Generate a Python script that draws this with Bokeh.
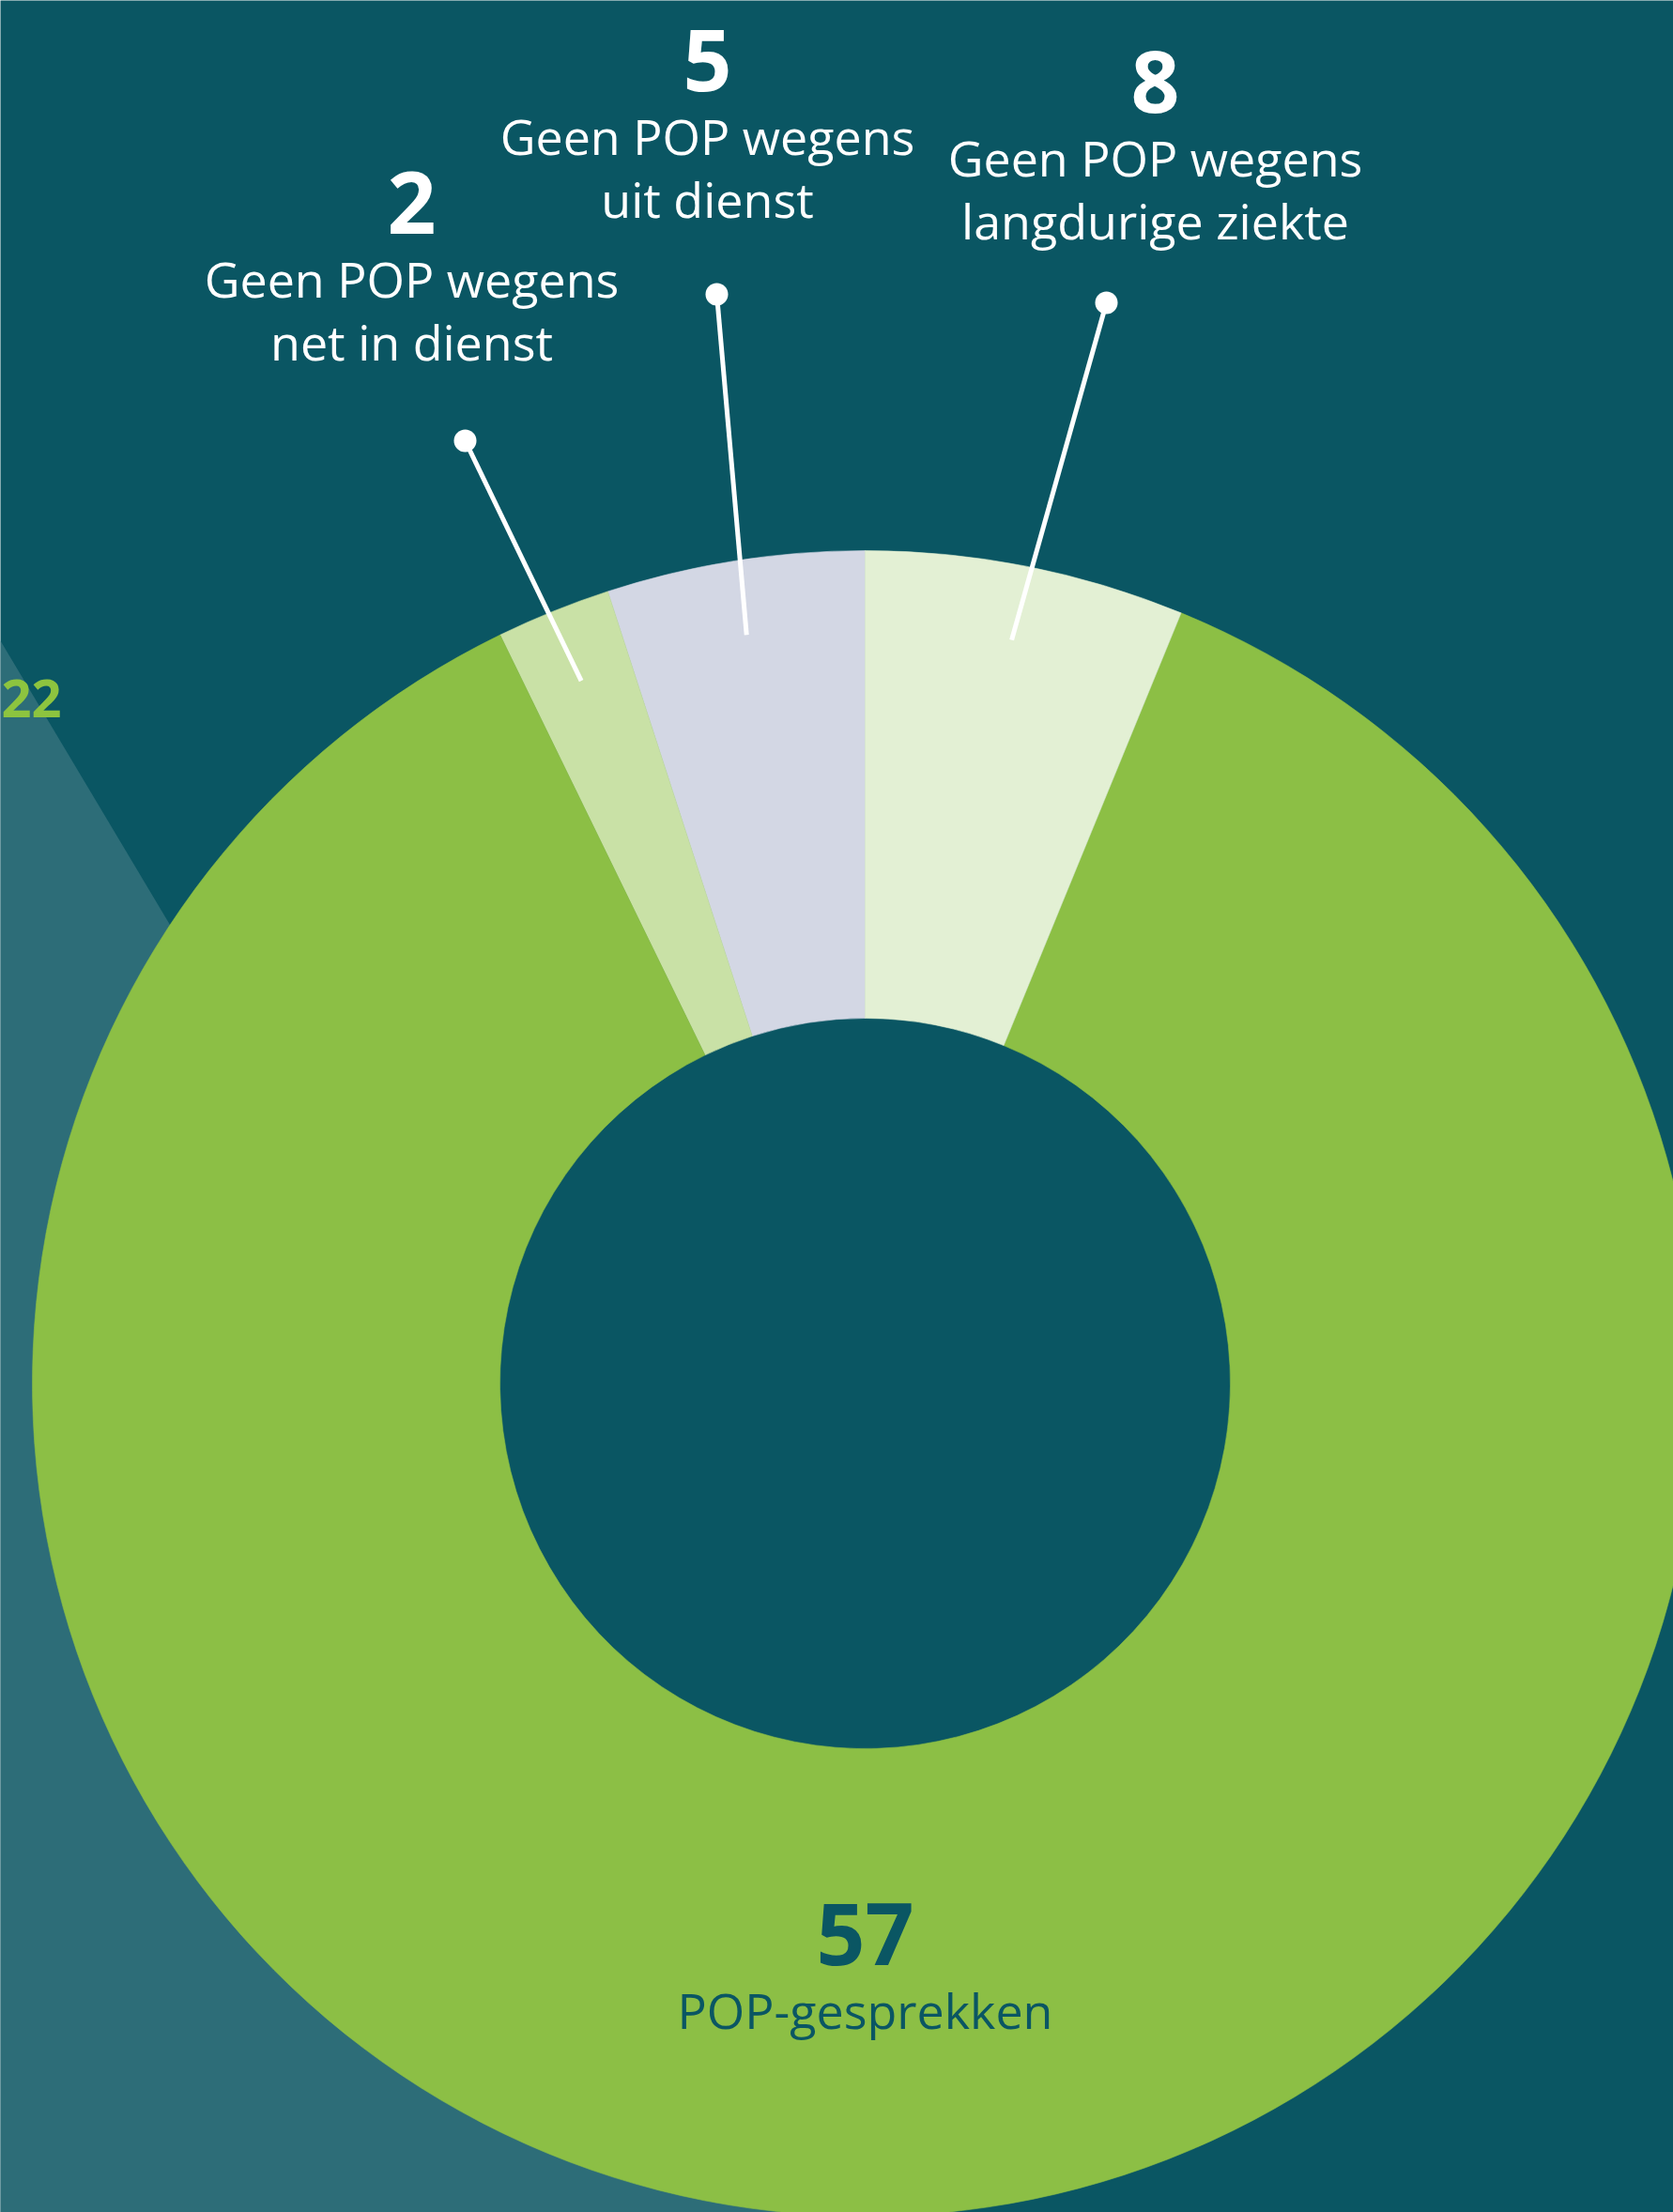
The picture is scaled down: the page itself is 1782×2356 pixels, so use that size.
import math
from bokeh.plotting import figure
from bokeh.models import Range1d, ColumnDataSource
from bokeh.core.properties import value
from bokeh.embed import file_html
from bokeh.resources import INLINE

# ---------------- data (slices listed anticlockwise, starting at 12 o'clock) ----------------
categories = ["uit dienst", "net in dienst", "POP-gesprekken", "langdurige ziekte"]
counts = [5, 2, 57, 8]
# size of each slice as drawn in the picture (degrees of the ring)
arc_deg = [18.0, 8.0, 311.7, 22.3]
label_line1 = ["Geen POP wegens", "Geen POP wegens", "POP-gesprekken", "Geen POP wegens"]
label_line2 = ["uit dienst", "net in dienst", "", "langdurige ziekte"]
side_value = "22"

# ---------------- styles / layout ----------------
W, H = 1782, 2356
BG = "#0a5663"
BG_LIGHT = "#2d6d78"
slice_colors = ["#d3d7e4", "#c9e1a6", "#8cbf45", "#e3f0d4"]
GREEN_TXT = "#8dc43f"
DARK_TXT = "#0a5663"
FONT = "Open Sans"

CX, CY_IMG = 921, 1473
R_OUT, R_IN = 887, 389

def fy(y_img):
    return H - y_img

CY = fy(CY_IMG)

# label anchors (image px): centre x, baseline of the number; leader dot position
label_anchor = [(753, 97), (438, 249), (921, 2093), (1230, 120)]
leader_dot = [(763, 313), (495, 469), None, (1178, 322)]
label_color = ["white", "white", DARK_TXT, "white"]
NUM_PX, LBL_PX = 91, 52
GAP1, GAP2 = 66, 67
BASE_FIX = 0.37  # empirical baseline correction (em)
LEADER_R = 0.91 * R_OUT

# background decoration: lighter teal wedge on the left
bg_shape_x = [0, 999, 0]
bg_shape_y = [fy(682), fy(2356), fy(2356)]

# ---------------- figure ----------------
p = figure(width=W, height=H, x_range=Range1d(0, W), y_range=Range1d(0, H),
           output_backend="svg", toolbar_location=None,
           x_axis_type=None, y_axis_type=None, min_border=0,
           background_fill_color=BG, border_fill_color=BG, outline_line_color=None)
p.xgrid.visible = False
p.ygrid.visible = False

p.patch(bg_shape_x, bg_shape_y, fill_color=BG_LIGHT, line_color=None)
p.text(x=[1], y=[fy(764) + BASE_FIX * 56], text=[side_value], text_align="left", text_baseline="alphabetic",
       text_font=value(FONT), text_font_style="bold", text_font_size=value("56px"),
       text_color=GREEN_TXT)

# hole background
p.circle(x=[CX], y=[CY], radius=R_IN, fill_color=BG, line_color=None)

# slices
starts, ends, mids = [], [], []
a = 90.0
for d in arc_deg:
    starts.append(math.radians(a))
    ends.append(math.radians(a + d))
    mids.append(math.radians(a + d / 2))
    a += d

src = ColumnDataSource(dict(start=starts, end=ends, color=slice_colors, cat=categories, n=counts))
p.annular_wedge(x=CX, y=CY, inner_radius=R_IN, outer_radius=R_OUT,
                start_angle="start", end_angle="end", direction="anticlock",
                fill_color="color", line_color="color", line_width=0.6, source=src)

# leaders
for i, dot in enumerate(leader_dot):
    if dot is None:
        continue
    ex = CX + LEADER_R * math.cos(mids[i])
    ey = CY + LEADER_R * math.sin(mids[i])
    dx, dy = dot[0], fy(dot[1])
    p.line([ex, dx], [ey, dy], line_color="white", line_width=5)
    p.circle(x=[dx], y=[dy], radius=12, fill_color="white", line_color=None)

# labels
for i in range(len(counts)):
    x, yb = label_anchor[i]
    col = label_color[i]
    p.text(x=[x], y=[fy(yb) + BASE_FIX * NUM_PX], text=[str(counts[i])], text_align="center",
           text_baseline="alphabetic", text_font=value(FONT), text_font_style="bold",
           text_font_size=value(f"{NUM_PX}px"), text_color=col)
    p.text(x=[x], y=[fy(yb + GAP1) + BASE_FIX * LBL_PX], text=[label_line1[i]], text_align="center",
           text_baseline="alphabetic", text_font=value(FONT), text_font_size=value(f"{LBL_PX}px"),
           text_color=col)
    if label_line2[i]:
        p.text(x=[x], y=[fy(yb + GAP1 + GAP2) + BASE_FIX * LBL_PX], text=[label_line2[i]],
               text_align="center", text_baseline="alphabetic", text_font=value(FONT),
               text_font_size=value(f"{LBL_PX}px"), text_color=col)

open("out.html", "w").write(file_html(p, INLINE))
